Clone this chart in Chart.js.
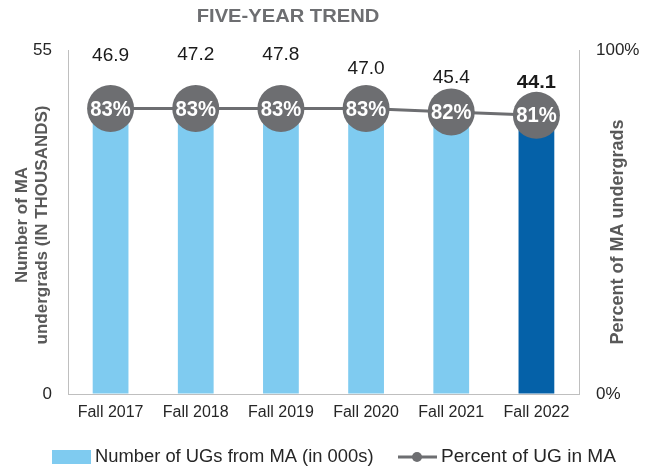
<!DOCTYPE html>
<html>
<head>
<meta charset="utf-8">
<script src="https://cdn.jsdelivr.net/npm/chart.js@4.4.1/dist/chart.umd.min.js"></script>
<style>
  body { margin: 0; background: #fff; }
  canvas { display: block; }
</style>
</head>
<body>
<canvas id="trend" width="652" height="468"></canvas>
<script>
// data
var terms = ['Fall 2017', 'Fall 2018', 'Fall 2019', 'Fall 2020', 'Fall 2021', 'Fall 2022'];
var ugCounts = [46.9, 47.2, 47.8, 47.0, 45.4, 44.1];   // thousands
var ugPercent = [83, 83, 83, 83, 82, 81];
var leftTicks = [0, 55];
var rightTicks = [0, 100];

var LIGHT = '#7fcbf0', DARK = '#0561a8', GREY = '#6d6e71';
var FONT = '"Liberation Sans", Arial, sans-serif';

// how far each value label sits above its bar (manually placed in the original)
var labelLift = [45, 44, 40, 31, 32, 35];

// text squeezed or stretched sideways
function wideText(ctx, txt, x, y, sx) {
    ctx.save();
    ctx.translate(x, y);
    ctx.scale(sx, 1);
    ctx.fillText(txt, 0, 0);
    ctx.restore();
}

var decorations = {
    id: 'decorations',
    afterDatasetsDraw: function (chart) {
        var ctx = chart.ctx;
        var bars = chart.getDatasetMeta(1).data;
        var pts = chart.getDatasetMeta(0).data;
        ctx.save();
        ctx.textAlign = 'center';
        ctx.textBaseline = 'middle';
        // value labels above bars
        bars.forEach(function (b, i) {
            var last = i === bars.length - 1;
            ctx.font = (last ? 'bold 19px ' : '18px ') + FONT;
            ctx.fillStyle = '#1a1a1a';
            wideText(ctx, ugCounts[i].toFixed(1), b.x, b.y - labelLift[i], 1.06);
        });
        // percents inside the circles
        ctx.font = 'bold 22px ' + FONT;
        ctx.fillStyle = '#ffffff';
        pts.forEach(function (p, i) {
            wideText(ctx, ugPercent[i] + '%', p.x, p.y + 1, 0.92);
        });
        ctx.restore();
    },
    afterDraw: function (chart) {
        var ctx = chart.ctx;
        var area = chart.chartArea;
        ctx.save();
        // title
        ctx.fillStyle = GREY;
        ctx.font = 'bold 18px ' + FONT;
        ctx.textAlign = 'center';
        ctx.textBaseline = 'middle';
        wideText(ctx, 'FIVE-YEAR TREND', 288, 17, 1.12);

        // axis titles
        var midY = (area.top + area.bottom) / 2;
        ctx.fillStyle = '#595959';
        ctx.save();
        ctx.font = 'bold 17px ' + FONT;
        ctx.translate(22, midY + 3);
        ctx.rotate(-Math.PI / 2);
        ctx.fillText('Number of MA', 0, 0);
        ctx.fillText('undergrads (IN THOUSANDS)', 0, 20);
        ctx.restore();
        ctx.save();
        ctx.font = 'bold 18px ' + FONT;
        ctx.translate(618, midY + 10);
        ctx.rotate(-Math.PI / 2);
        ctx.fillText('Percent of MA undergrads', 0, 0);
        ctx.restore();

        // legend
        var ly = 457;
        ctx.fillStyle = LIGHT;
        ctx.fillRect(52, ly - 7, 39, 14);
        ctx.fillStyle = '#262626';
        ctx.font = '18px ' + FONT;
        ctx.textAlign = 'left';
        wideText(ctx, 'Number of UGs from MA (in 000s)', 95, ly, 1.02);
        ctx.strokeStyle = GREY;
        ctx.lineWidth = 3;
        ctx.beginPath();
        ctx.moveTo(398, ly);
        ctx.lineTo(437, ly);
        ctx.stroke();
        ctx.fillStyle = GREY;
        ctx.beginPath();
        ctx.arc(417, ly, 5, 0, Math.PI * 2);
        ctx.fill();
        ctx.fillStyle = '#262626';
        wideText(ctx, 'Percent of UG in MA', 441, ly, 1.06);
        ctx.restore();
    }
};

new Chart(document.getElementById('trend'), {
    type: 'bar',
    data: {
        labels: terms,
        datasets: [{
            type: 'line',
            label: 'Percent of UG in MA',
            data: ugPercent,
            yAxisID: 'y1',
            order: 0,
            borderColor: GREY,
            borderWidth: 3,
            backgroundColor: GREY,
            pointRadius: 23.5,
            pointHoverRadius: 23.5,
            pointBorderWidth: 0,
            pointBackgroundColor: GREY,
            tension: 0
        }, {
            type: 'bar',
            label: 'Number of UGs from MA (in 000s)',
            data: ugCounts,
            yAxisID: 'y',
            order: 1,
            backgroundColor: ugCounts.map(function (v, i) { return i === ugCounts.length - 1 ? DARK : LIGHT; }),
            barPercentage: 0.42,
            categoryPercentage: 1.0
        }]
    },
    options: {
        responsive: false,
        animation: false,
        layout: { padding: { top: 50, bottom: 0, left: 0, right: 0 } },
        plugins: {
            legend: { display: false },
            title: { display: false },
            tooltip: { enabled: false }
        },
        scales: {
            x: {
                grid: { drawOnChartArea: false, drawTicks: false },
                border: { color: '#bfbfbf', width: 1 },
                ticks: { color: '#262626', font: { family: FONT, size: 16 }, padding: 9, maxRotation: 0 },
                afterFit: function (s) { s.height = 74; }
            },
            y: {
                position: 'left',
                min: 0,
                max: 55,
                grid: { drawOnChartArea: false, drawTicks: false },
                border: { color: '#bfbfbf', width: 1 },
                afterBuildTicks: function (s) { s.ticks = leftTicks.map(function (v) { return { value: v }; }); },
                ticks: { color: '#262626', font: { family: FONT, size: 17 }, padding: 16 },
                afterFit: function (s) { s.width = 68; }
            },
            y1: {
                position: 'right',
                min: 0,
                max: 100,
                grid: { drawOnChartArea: false, drawTicks: false },
                border: { color: '#bfbfbf', width: 1 },
                afterBuildTicks: function (s) { s.ticks = rightTicks.map(function (v) { return { value: v }; }); },
                ticks: {
                    color: '#262626',
                    font: { family: FONT, size: 17 },
                    padding: 17,
                    callback: function (v) { return v + '%'; }
                },
                afterFit: function (s) { s.width = 73; }
            }
        }
    },
    plugins: [decorations]
});
</script>
</body>
</html>
